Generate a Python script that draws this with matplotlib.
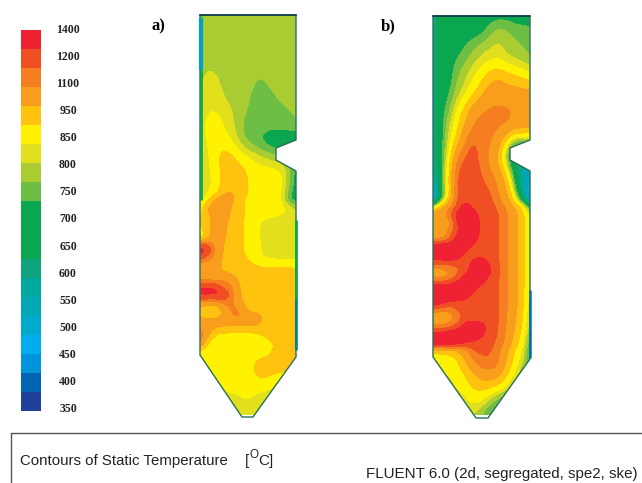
import numpy as np
import matplotlib
matplotlib.use('Agg')
import matplotlib.pyplot as plt
from matplotlib.colors import BoundaryNorm, ListedColormap
from matplotlib.patches import Polygon

W, H = 642, 483

tick_values = [350, 400, 450, 500, 550, 600, 650, 700, 750, 800, 850, 950, 1100, 1200, 1400]
levels = [350, 385, 420, 455, 490, 525, 560, 595, 630, 665, 700, 735, 770, 805, 840,
          900, 980, 1085, 1160, 1260, 1400]
band_colors = ['#21409A', '#0066B3', '#0095DA', '#00AEEF', '#00AACC', '#00A7B5', '#00A99D',
               '#0FA37F', '#0BA650', '#0BA650', '#0BA650', '#6DBE45', '#AACC33', '#E2E01C',
               '#FFF200', '#FFC20E', '#F99D1C', '#F57F20', '#F04E23', '#EE2233']

# row heights in picture px, closer together where the jets are
rows_y = [15, 31, 47, 63, 79, 95, 111, 127, 143, 159, 175, 191,
          199, 207, 215, 223, 231, 239, 247, 255, 263, 271, 279, 287, 295, 303,
          311, 319, 327, 335, 343, 351,
          367, 383, 399, 415]

temp_a = [
    [760, 775, 790, 790, 790, 790, 790, 790, 790, 790, 790, 790, 790],
    [770, 785, 790, 790, 790, 790, 790, 790, 790, 790, 790, 790, 790],
    [770, 785, 790, 790, 790, 790, 790, 790, 790, 790, 790, 790, 790],
    [780, 790, 790, 790, 790, 790, 790, 790, 790, 790, 790, 790, 790],
    [790, 825, 810, 790, 790, 790, 790, 770, 768, 790, 790, 790, 790],
    [800, 835, 830, 800, 790, 790, 775, 755, 750, 760, 785, 790, 790],
    [810, 835, 835, 825, 805, 785, 768, 750, 745, 745, 750, 765, 785],
    [815, 860, 870, 835, 815, 775, 750, 745, 745, 745, 745, 745, 745],
    [815, 840, 870, 875, 835, 800, 760, 745, 720, 700, 700, 700, 700],
    [815, 830, 880, 940, 930, 870, 860, 830, 815, 800, 785, 770, 720],
    [815, 820, 870, 910, 960, 950, 890, 870, 870, 870, 860, 800, 710],
    [815, 830, 850, 950, 985, 950, 900, 870, 870, 870, 860, 760, 710],
    [800, 860, 1000, 1030, 1000, 930, 880, 870, 870, 870, 860, 740, 700],
    [850, 1000, 1040, 1040, 970, 930, 870, 860, 860, 860, 860, 830, 780],
    [880, 960, 1030, 1040, 950, 930, 875, 860, 860, 850, 840, 835, 825],
    [900, 950, 1040, 1010, 940, 925, 865, 855, 825, 815, 815, 815, 815],
    [860, 950, 1040, 1000, 940, 925, 865, 855, 820, 812, 812, 812, 812],
    [860, 960, 1040, 980, 940, 925, 870, 855, 825, 815, 812, 812, 812],
    [1300, 1260, 1050, 970, 940, 925, 870, 855, 830, 815, 815, 815, 815],
    [1280, 1180, 1040, 960, 940, 925, 880, 860, 830, 820, 820, 820, 820],
    [1060, 1030, 1020, 960, 940, 935, 915, 880, 860, 860, 860, 860, 860],
    [1000, 1010, 1000, 960, 940, 935, 935, 935, 930, 930, 930, 930, 920],
    [1040, 1040, 1030, 1090, 1030, 950, 940, 940, 940, 940, 940, 940, 930],
    [1260, 1280, 1250, 1110, 1110, 960, 940, 940, 940, 940, 940, 940, 930],
    [1290, 1290, 1290, 1280, 1100, 980, 940, 940, 940, 940, 940, 940, 930],
    [1040, 1030, 1020, 1090, 1110, 1000, 940, 940, 940, 940, 940, 940, 930],
    [900, 870, 860, 1000, 1110, 1090, 960, 940, 940, 940, 940, 940, 930],
    [1000, 1000, 1000, 1030, 1060, 1095, 1095, 1090, 950, 940, 940, 940, 930],
    [1060, 1030, 1000, 980, 960, 950, 945, 940, 940, 940, 940, 940, 930],
    [1150, 1000, 870, 870, 870, 875, 880, 885, 900, 930, 940, 940, 930],
    [1100, 870, 865, 870, 870, 870, 870, 870, 875, 890, 935, 935, 930],
    [860, 865, 870, 870, 870, 870, 870, 870, 870, 890, 935, 935, 930],
    [860, 860, 860, 870, 870, 870, 880, 920, 940, 935, 930, 920, 900],
    [840, 850, 850, 860, 860, 870, 870, 880, 885, 860, 850, 840, 830],
    [820, 820, 820, 820, 825, 830, 840, 820, 800, 790, 790, 790, 790],
    [800, 800, 800, 800, 800, 825, 830, 810, 790, 790, 790, 790, 790],
]

temp_b = [
    [560, 700, 710, 710, 710, 710, 710, 710, 710, 710, 710, 710, 710],
    [560, 710, 710, 710, 710, 710, 715, 750, 785, 780, 755, 750, 745],
    [560, 710, 710, 710, 735, 760, 785, 800, 815, 790, 785, 770, 755],
    [560, 710, 710, 745, 770, 800, 825, 840, 850, 830, 810, 800, 780],
    [560, 710, 710, 770, 800, 840, 880, 950, 990, 950, 930, 900, 880],
    [560, 710, 730, 790, 830, 890, 970, 1040, 1060, 1050, 1040, 1035, 1030],
    [560, 710, 760, 850, 930, 1040, 1090, 1100, 1100, 1100, 1095, 1095, 1090],
    [560, 720, 800, 880, 1000, 1090, 1110, 1100, 1100, 1090, 1040, 1030, 1020],
    [560, 710, 820, 940, 1100, 1180, 1130, 1090, 1040, 860, 710, 700, 700],
    [560, 710, 860, 1090, 1180, 1190, 1130, 1070, 960, 760, 640, 600, 560],
    [520, 710, 900, 1170, 1200, 1200, 1165, 1100, 1060, 930, 700, 540, 520],
    [450, 700, 880, 1180, 1200, 1200, 1190, 1170, 1090, 1010, 820, 560, 500],
    [400, 700, 920, 1180, 1220, 1200, 1200, 1180, 1110, 1030, 880, 660, 420],
    [800, 950, 1090, 1170, 1340, 1220, 1200, 1190, 1150, 1080, 990, 900, 700],
    [1080, 1100, 1100, 1340, 1400, 1340, 1200, 1200, 1170, 1110, 1020, 930, 830],
    [1090, 1030, 1020, 1260, 1400, 1400, 1200, 1200, 1170, 1110, 1020, 930, 850],
    [1090, 1060, 1090, 1220, 1400, 1400, 1200, 1200, 1170, 1110, 1020, 930, 850],
    [1040, 1030, 1120, 1340, 1400, 1320, 1200, 1200, 1170, 1110, 1020, 930, 850],
    [1400, 1400, 1400, 1400, 1340, 1200, 1200, 1200, 1170, 1110, 1020, 930, 850],
    [1400, 1400, 1400, 1340, 1200, 1200, 1200, 1200, 1170, 1110, 1020, 930, 840],
    [1160, 1170, 1180, 1200, 1200, 1300, 1400, 1220, 1170, 1110, 1020, 930, 830],
    [1050, 1040, 1070, 1130, 1200, 1340, 1400, 1300, 1170, 1110, 1020, 930, 830],
    [1090, 1070, 1110, 1200, 1340, 1400, 1350, 1200, 1170, 1110, 1020, 930, 820],
    [1340, 1340, 1340, 1380, 1400, 1340, 1200, 1200, 1170, 1110, 1020, 930, 820],
    [1400, 1400, 1400, 1400, 1340, 1200, 1200, 1200, 1170, 1110, 1020, 930, 810],
    [1340, 1300, 1220, 1200, 1200, 1200, 1200, 1200, 1170, 1110, 1020, 930, 800],
    [1100, 1050, 1070, 1160, 1200, 1200, 1200, 1200, 1170, 1100, 1010, 920, 790],
    [1030, 1030, 1040, 1100, 1200, 1200, 1200, 1200, 1170, 1090, 1000, 910, 780],
    [1100, 1080, 1130, 1200, 1340, 1400, 1340, 1200, 1170, 1090, 990, 900, 770],
    [1340, 1350, 1400, 1400, 1400, 1400, 1280, 1190, 1160, 1080, 970, 880, 750],
    [1400, 1400, 1400, 1340, 1260, 1200, 1190, 1180, 1150, 1060, 950, 860, 730],
    [860, 870, 880, 930, 1040, 1170, 1190, 1180, 1110, 1010, 900, 840, 710],
    [800, 850, 860, 870, 930, 1020, 1100, 1120, 1100, 960, 870, 800, 720],
    [800, 820, 820, 850, 870, 920, 950, 950, 920, 870, 790, 730, 710],
    [790, 800, 810, 820, 830, 860, 850, 790, 745, 720, 710, 710, 710],
    [780, 780, 790, 790, 790, 800, 760, 720, 710, 710, 710, 710, 710],
]

outline_a = [(200, 15), (296, 15), (296, 140), (276, 148), (276, 160), (296, 171),
             (296, 357), (253, 417), (242, 417), (200, 355)]
outline_b = [(433, 16), (530, 16), (530, 140), (510, 148), (510, 160), (530, 171),
             (530, 359), (488, 418), (476, 418), (433, 357)]


def smooth_field(values, n=4, blur=5):
    # resample to a finer grid and blur a little so the contours are soft like the scan
    v = np.array(values, dtype=float)
    fy = np.linspace(0, v.shape[0] - 1, (v.shape[0] - 1) * n + 1)
    fx = np.linspace(0, v.shape[1] - 1, (v.shape[1] - 1) * n + 1)
    v = np.array([np.interp(fx, np.arange(v.shape[1]), r) for r in v])
    v = np.array([np.interp(fy, np.arange(v.shape[0]), c) for c in v.T]).T
    kernel = np.ones(blur) / blur
    for axis in (0, 1):
        pad = [(0, 0), (0, 0)]
        pad[axis] = (blur // 2, blur // 2)
        v = np.pad(v, pad, mode='edge')
        v = np.apply_along_axis(lambda s: np.convolve(s, kernel, mode='valid'), axis, v)
    return fx, fy, v


cmap = ListedColormap(band_colors)
norm = BoundaryNorm(levels, cmap.N)

fig = plt.figure(figsize=(W / 100, H / 100), dpi=100)
ax = fig.add_axes([0, 0, 1, 1])
ax.set_xlim(0, W)
ax.set_ylim(H, 0)
ax.axis('off')

for temp, outline in ((temp_a, outline_a), (temp_b, outline_b)):
    x0 = outline[0][0]
    step = (outline[1][0] - x0) / 12
    fx, fy, field = smooth_field(temp)
    xs = x0 + fx * step
    ys = np.interp(fy, np.arange(len(rows_y)), rows_y)
    cs = ax.contourf(xs, ys, field, levels=levels, cmap=cmap, norm=norm, extend='both')
    cs.set_clip_path(Polygon(outline, closed=True, transform=ax.transData))
    ax.add_patch(Polygon(outline, closed=True, fill=False, ec='#2A6E5A', lw=1.0))

# colder strips along the walls
ax.plot([201, 201], [18, 70], color='#00A0C8', lw=3, solid_capstyle='butt')
ax.plot([201, 201], [70, 200], color='#0BA650', lw=2, solid_capstyle='butt')
ax.plot([296, 296], [220, 350], color='#0BA650', lw=2, solid_capstyle='butt')
ax.plot([296, 296], [300, 350], color='#0080A8', lw=1.5, solid_capstyle='butt')
ax.plot([200, 296], [15, 15], color='#123A4A', lw=1.2)
ax.plot([433, 530], [16, 16], color='#123A4A', lw=1.2)
ax.plot([530, 530], [290, 358], color='#0070B0', lw=1.8, solid_capstyle='butt')

# colour scale
cb = fig.add_axes([21 / W, 1 - 411 / H, 20 / W, 381 / H])
cb.pcolormesh([0, 1], np.arange(len(band_colors) + 1), np.arange(len(band_colors)).reshape(-1, 1),
              cmap=cmap, vmin=-0.5, vmax=len(band_colors) - 0.5)
cb.axis('off')
for i, v in enumerate(tick_values):
    ax.text(68, 409 - i * (379 / 14), str(v), ha='center', va='center',
            family='Liberation Serif', weight='bold', fontsize=8.5, color='#222222')

ax.text(152, 26, 'a)', family='Liberation Serif', weight='bold', fontsize=12, va='center')
ax.text(381, 26, 'b)', family='Liberation Serif', weight='bold', fontsize=12, va='center')

# caption box
ax.plot([11, 11, W], [H, 433, 433], color='#555555', lw=1.0)
ax.text(20, 461, 'Contours of Static Temperature', family='Liberation Sans', fontsize=10.8,
        va='center', color='#222222')
ax.text(245, 461, '[', family='Liberation Sans', fontsize=11, va='center', color='#222222')
ax.text(250, 455, 'O', family='Liberation Sans', fontsize=8.5, va='center', color='#222222')
ax.text(258, 461, 'C]', family='Liberation Sans', fontsize=11, va='center', color='#222222')
ax.text(366, 474, 'FLUENT 6.0 (2d, segregated, spe2, ske)', family='Liberation Sans',
        fontsize=10.9, va='center', color='#222222')

fig.savefig('out.png', dpi=100)
